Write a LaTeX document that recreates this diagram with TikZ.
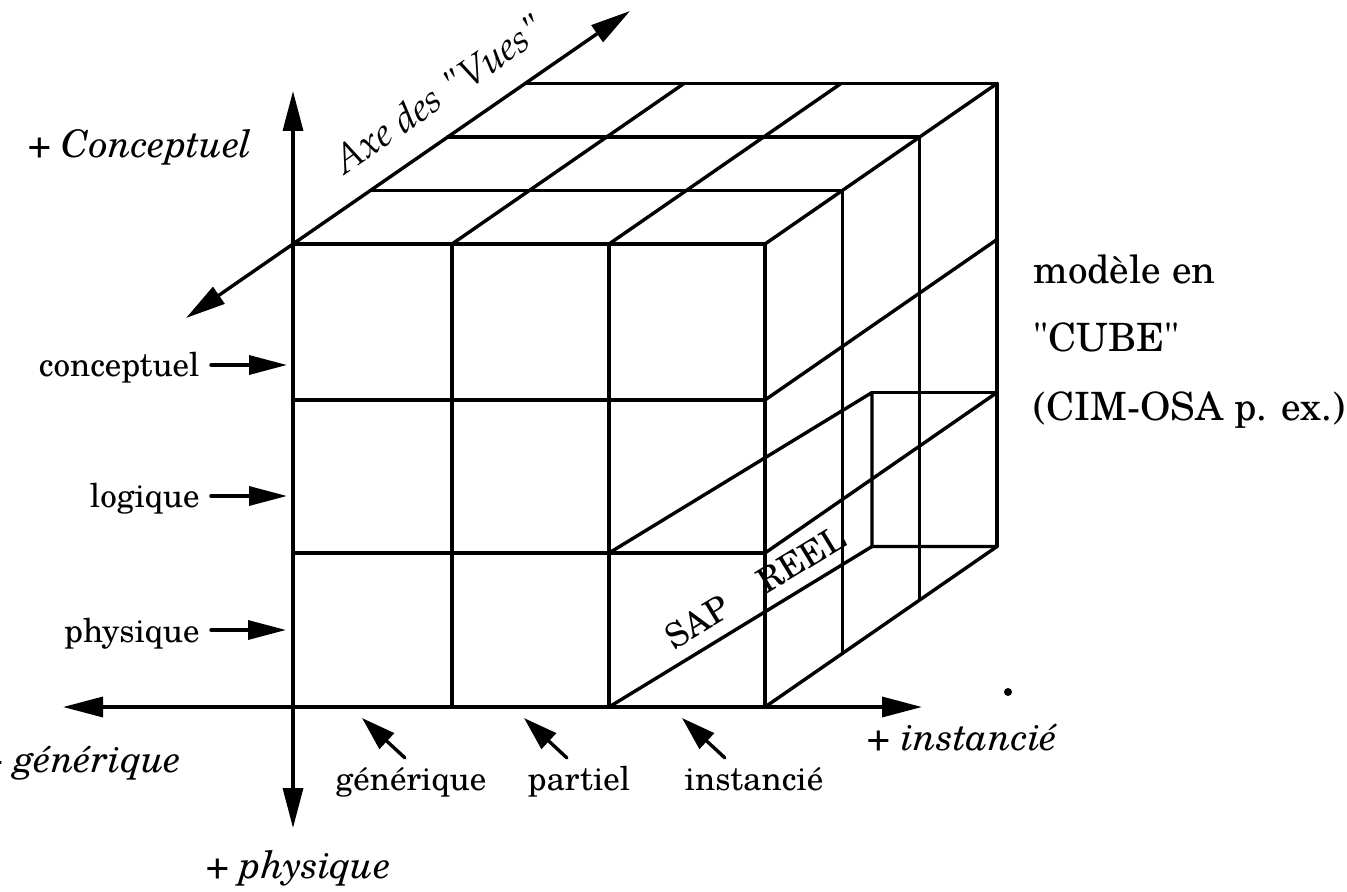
\documentclass[tikz,border=0pt]{standalone}
\usepackage{fontspec}
\setmainfont{TeX Gyre Schola}
\newfontfamily\axefont{TeX Gyre Pagella}
\usetikzlibrary{arrows.meta}
\begin{document}
\begin{tikzpicture}[x=0.5pt,y=-0.5pt,
  ln/.style={line width=1.7pt, line cap=round, line join=round},
  arr/.style={ln, -{Triangle[length=19pt,width=9.5pt]}},
  sarr/.style={ln, -{Triangle[length=17pt,width=10.5pt]}},
  dbl/.style={ln, {Triangle[length=20pt,width=10pt]}-{Triangle[length=20pt,width=10pt]}},
  lab/.style={font=\fontsize{16.5}{18}\selectfont, inner sep=0pt},
  big/.style={font=\fontsize{19.5}{22}\selectfont, inner sep=0pt, anchor=base west},
  ital/.style={font=\fontsize{19}{22}\selectfont\itshape, inner sep=0pt},
]
\useasboundingbox (0,0) rectangle (1347,892);

% front face grid points
\foreach \i/\x in {0/293,1/452,2/609,3/765}
  \foreach \j/\y in {0/244,1/400,2/553,3/707}
    \coordinate (F\i\j) at (\x,\y);

% top face: left edge (on axis) and right edge points at depth 1..3
\coordinate (L1) at (370.3,190.5);
\coordinate (L2) at (447.7,137);
\coordinate (L3) at (525,83.5);
\coordinate (R1) at (842.3,190.5);
\coordinate (R2) at (919.7,137);
\coordinate (R3) at (997,83.5);
\coordinate (T1) at (684,83.5);
\coordinate (T2) at (841,83.5);
% right face bottoms of verticals and row ends
\coordinate (R1b) at (842.3,653.5);
\coordinate (R2b) at (919.7,600);
\coordinate (R3b) at (997,546.5);
\coordinate (Q1) at (997,239.5);
\coordinate (Q2) at (997,392.5);
% SAP box
\coordinate (SC) at (872,392.5);
\coordinate (SD) at (872,546.5);

% axes
\coordinate (vtop) at (293,91);
\coordinate (vbot) at (293,828);
\coordinate (hl) at (63,707);
\coordinate (hr) at (922,707);
\coordinate (dl) at (186,318);
\coordinate (dr) at (630,11);
\draw[dbl] (vbot) -- (vtop);
\draw[dbl] (hl) -- (hr);
\draw[dbl] (dl) -- (dr);

% front face
\draw[ln] (F00) -- (F30) -- (F33);
\draw[ln] (F01) -- (F31);
\draw[ln] (F02) -- (F32);
\draw[ln] (F10) -- (F13);
\draw[ln] (F20) -- (F23);

% top face
\draw[ln] (L1) -- (R1);
\draw[ln] (L2) -- (R2);
\draw[ln] (L3) -- (R3);
\draw[ln] (F10) -- (T1);
\draw[ln] (F20) -- (T2);
\draw[ln] (F30) -- (R3);

% right face
\draw[ln] (R1) -- (R1b);
\draw[ln] (R2) -- (R2b);
\draw[ln] (R3) -- (R3b);
\draw[ln] (F31) -- (Q1);
\draw[ln] (F32) -- (Q2);
\draw[ln] (F33) -- (R3b);

% SAP REEL box
\draw[ln] (F22) -- (SC) -- (SD) -- (R3b);
\draw[ln] (SC) -- (Q2);
\draw[ln] (F23) -- (SD);
\node[lab, font=\fontsize{17}{18}\selectfont, anchor=base west, rotate=31.4] (sap) at (674,651) {SAP\hspace{1.15em}REEL};

% axis labels
\node[ital, anchor=base west] (pconc) at (28,158) {+ Conceptuel};
\node[ital, anchor=base east] (pgen) at (182,772) {+ générique};
\node[ital, anchor=base west] (pinst) at (867,750) {+ instancié};
\node[ital, anchor=base west] (pphys) at (206,878) {+ physique};
\node[inner sep=0pt, anchor=base west, rotate=34.67, font=\axefont\fontsize{19.5}{22}\selectfont\itshape] (axe) at (344,176) {Axe des \textquotedbl Vues\textquotedbl};

% right text
\node[big] (m1) at (1033,284) {modèle en};
\node[big] (m2) at (1033,352) {\textquotedbl CUBE\textquotedbl};
\node[big] (m3) at (1033,421) {(CIM-OSA p. ex.)};

% level labels with arrows
\node[lab, anchor=base east] (lc) at (200,377) {conceptuel};
\node[lab, anchor=base east] (ll) at (200,507) {logique};
\node[lab, anchor=base east] (lp) at (200,642) {physique};
\coordinate (lcA) at (211,365);  \coordinate (lcB) at (287,365);
\coordinate (llA) at (211,496);  \coordinate (llB) at (287,496);
\coordinate (lpA) at (211,630);  \coordinate (lpB) at (286,630);
\draw[arr] (lcA) -- (lcB);
\draw[arr] (llA) -- (llB);
\draw[arr] (lpA) -- (lpB);

% instance labels with arrows
\node[lab, anchor=base] (bg) at (411,790) {générique};
\node[lab, anchor=base] (bp) at (579,790) {partiel};
\node[lab, anchor=base] (bi) at (754,790) {instancié};
\coordinate (bgA) at (405,758);  \coordinate (bgB) at (362,718);
\coordinate (bpA) at (567,758);  \coordinate (bpB) at (524,718);
\coordinate (biA) at (725,758);  \coordinate (biB) at (682,718);
\draw[sarr] (bgA) -- (bgB);
\draw[sarr] (bpA) -- (bpB);
\draw[sarr] (biA) -- (biB);

% stray dot
\fill (1008,692) circle (4);
\end{tikzpicture}
\end{document}
